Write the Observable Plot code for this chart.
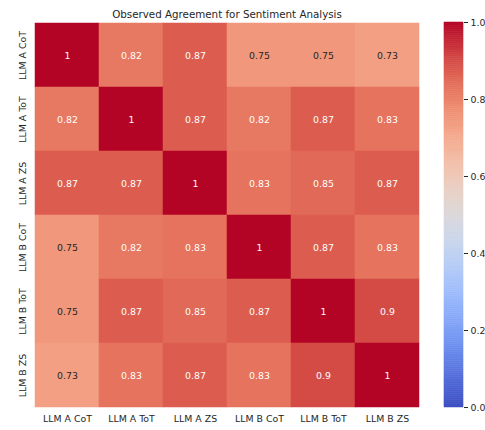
<!DOCTYPE html>
<html><head><meta charset="utf-8">
<script src="https://cdn.jsdelivr.net/npm/d3@7"></script>
<script src="https://cdn.jsdelivr.net/npm/@observablehq/plot@0.6"></script>
<style>
html,body{margin:0;padding:0;background:#fff;overflow:hidden}
#wrap{position:relative;width:485px;height:430px;font-family:"DejaVu Sans",sans-serif}
#wrap > svg{position:absolute;top:0}
</style></head><body><div id="wrap"></div>
<script>
const models = ["LLM A CoT", "LLM A ToT", "LLM A ZS", "LLM B CoT", "LLM B ToT", "LLM B ZS"];
const rowACoT = [1, 0.82, 0.87, 0.75, 0.75, 0.73];
const rowAToT = [0.82, 1, 0.87, 0.82, 0.87, 0.83];
const rowAZS  = [0.87, 0.87, 1, 0.83, 0.85, 0.87];
const rowBCoT = [0.75, 0.82, 0.83, 1, 0.87, 0.83];
const rowBToT = [0.75, 0.87, 0.85, 0.87, 1, 0.9];
const rowBZS  = [0.73, 0.83, 0.87, 0.83, 0.9, 1];
const chartTitle = "Observed Agreement for Sentiment Analysis";
const colorbarTicks = [0, 0.2, 0.4, 0.6, 0.8, 1.0];

const rows = [rowACoT, rowAToT, rowAZS, rowBCoT, rowBToT, rowBZS];
const cells = models.flatMap((r, i) => models.map((c, j) => ({row: r, col: c, value: rows[i][j]})));

// matplotlib "coolwarm"
const coolwarm = d3.interpolateRgbBasis([
  "rgb(59,76,192)", "rgb(98,130,234)", "rgb(141,176,254)", "rgb(184,208,249)",
  "rgb(221,221,221)", "rgb(245,196,173)", "rgb(244,154,123)", "rgb(222,96,77)", "rgb(180,4,38)"
]);
function lum(c) {
  const {r, g, b} = d3.rgb(c);
  const f = v => { v /= 255; return v <= 0.03928 ? v / 12.92 : Math.pow((v + 0.055) / 1.055, 2.4); };
  return 0.2126 * f(r) + 0.7152 * f(g) + 0.0722 * f(b);
}
const ink = "#262626";
const font = "DejaVu Sans";

const main = Plot.plot({
  width: 440, height: 430,
  marginLeft: 33, marginRight: 20, marginTop: 22, marginBottom: 23,
  style: {fontFamily: font, fontSize: "9.4px", color: ink, background: "white"},
  x: {domain: models, padding: 0, label: null, axis: null},
  y: {domain: models, padding: 0, label: null, axis: null},
  color: {type: "linear", domain: [0, 1], interpolate: coolwarm},
  marks: [
    Plot.cell(cells, {x: "col", y: "row", fill: "value", stroke: "value", strokeWidth: 0.5}),
    Plot.text(cells, {x: "col", y: "row", text: d => String(d.value),
      fill: d => lum(coolwarm(d.value)) < 0.408 ? "white" : ink, fontSize: 9.4}),
    Plot.axisX({anchor: "bottom", tickSize: 0, tickPadding: 8, label: null, fontSize: 9.4}),
    Plot.axisY({anchor: "left", tickSize: 0, tickPadding: 8, tickRotate: -90, label: null, fontSize: 9.4}),
    Plot.text([chartTitle], {frameAnchor: "top", lineAnchor: "middle", dy: -8, fontSize: 10.3, fill: ink})
  ]
});

const steps = d3.range(0, 200).map(i => ({y1: i / 200, y2: (i + 1) / 200}));
const bar = Plot.plot({
  width: 65, height: 430,
  marginLeft: 24, marginRight: 22, marginTop: 22, marginBottom: 23,
  style: {fontFamily: font, fontSize: "9.4px", color: ink, background: "transparent"},
  x: {domain: [0, 1], axis: null},
  y: {domain: [0, 1], axis: null},
  color: {type: "linear", domain: [0, 1], interpolate: coolwarm},
  marks: [
    Plot.rect(steps, {x1: 0, x2: 1, y1: "y1", y2: "y2", fill: d => (d.y1 + d.y2) / 2, stroke: d => (d.y1 + d.y2) / 2, strokeWidth: 0.5}),
    Plot.axisY({anchor: "right", ticks: colorbarTicks, tickFormat: d3.format(".1f"), tickSize: 4, tickPadding: 3, label: null, fontSize: 9.4})
  ]
});
bar.style.left = "420px";
main.style.left = "0px";
document.getElementById("wrap").append(main, bar);
</script></body></html>
